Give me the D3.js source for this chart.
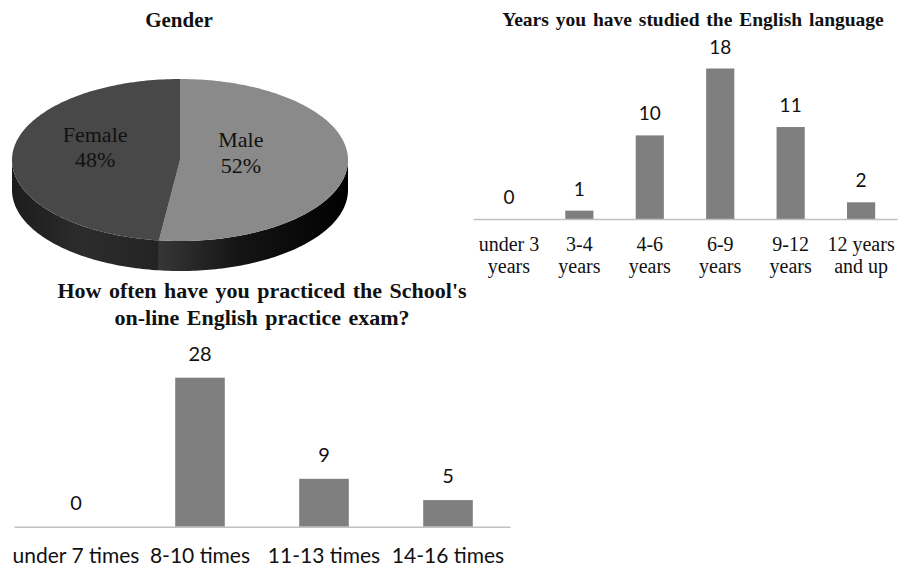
<!DOCTYPE html>
<html>
<head>
<meta charset="utf-8">
<title>Survey charts</title>
<script src="https://cdn.jsdelivr.net/npm/d3@7"></script>
<style>
  body { margin: 0; background: #fff; }
  svg { display: block; }
  .serif { font-family: "Liberation Serif", "Times New Roman", serif; fill: #111; }
  .sans { font-family: Lato, "Open Sans", sans-serif; fill: #111; }
</style>
</head>
<body>
<div id="viz"></div>
<script>
// ---- data ----
var genderLabels = ["Male", "Female"];
var genderValues = [52, 48];

var yearCats = [["under 3", "years"], ["3-4", "years"], ["4-6", "years"], ["6-9", "years"], ["9-12", "years"], ["12 years", "and up"]];
var yearValues = [0, 1, 10, 18, 11, 2];

var practiceCats = ["under 7 times", "8-10 times", "11-13 times", "14-16 times"];
var practiceValues = [0, 28, 9, 5];

var svg = d3.select("#viz").append("svg")
    .attr("width", 898)
    .attr("height", 568);

svg.append("rect").attr("width", 898).attr("height", 568).attr("fill", "#fff");

var defs = svg.append("defs");

// ---------- 3D pie: Gender ----------
var cx = 180, cy = 160, rx = 168, ry = 81, depth = 30;

svg.append("text").attr("class", "serif")
    .attr("x", 179).attr("y", 27)
    .attr("text-anchor", "middle")
    .style("font-size", "21px").style("font-weight", "bold")
    .text("Gender");

var pie = d3.pie().sort(null);
var slices = pie(genderValues);
var topColors = ["#8a8a8a", "#484848"];

// side gradients
var g1 = defs.append("linearGradient").attr("id", "sideMale")
    .attr("gradientUnits", "userSpaceOnUse")
    .attr("x1", 150).attr("x2", 350).attr("y1", 0).attr("y2", 0);
g1.append("stop").attr("offset", "0").attr("stop-color", "#3a3a3a");
g1.append("stop").attr("offset", "0.45").attr("stop-color", "#141414");
g1.append("stop").attr("offset", "1").attr("stop-color", "#000");
var g2 = defs.append("linearGradient").attr("id", "sideFemale")
    .attr("gradientUnits", "userSpaceOnUse")
    .attr("x1", 12).attr("x2", 155).attr("y1", 0).attr("y2", 0);
g2.append("stop").attr("offset", "0").attr("stop-color", "#1c1c1c");
g2.append("stop").attr("offset", "0.5").attr("stop-color", "#2c2c2c");
g2.append("stop").attr("offset", "1").attr("stop-color", "#242424");
var sideFills = ["url(#sideMale)", "url(#sideFemale)"];

function pt(a, dy) {
    return [cx + rx * Math.sin(a), cy - ry * Math.cos(a) + dy];
}
function arcPoints(a0, a1, dy) {
    var pts = [], n = Math.max(2, Math.ceil(Math.abs(a1 - a0) / 0.02));
    for (var i = 0; i <= n; i++) pts.push(pt(a0 + (a1 - a0) * i / n, dy));
    return pts;
}

// sides (only the front half, angles PI/2 .. 3PI/2)
var line = d3.line();
slices.forEach(function(s, i) {
    var a0 = Math.max(s.startAngle, Math.PI / 2);
    var a1 = Math.min(s.endAngle, 3 * Math.PI / 2);
    if (a1 <= a0) return;
    var pts = arcPoints(a0, a1, 0).concat(arcPoints(a1, a0, depth));
    svg.append("path")
        .attr("d", line(pts) + "Z")
        .attr("fill", sideFills[i]);
});

// tops
slices.forEach(function(s, i) {
    var pts = [[cx, cy]].concat(arcPoints(s.startAngle, s.endAngle, 0));
    svg.append("path")
        .attr("d", line(pts) + "Z")
        .attr("fill", topColors[i]);
});

// labels
slices.forEach(function(s, i) {
    var mid = (s.startAngle + s.endAngle) / 2;
    var lx = cx - 12 + 73 * Math.sin(mid);
    var ly = cy - 15.5 - 40 * Math.cos(mid);
    var t = svg.append("text").attr("class", "serif")
        .attr("text-anchor", "middle")
        .style("font-size", "22px");
    t.append("tspan").attr("x", lx).attr("y", ly).text(genderLabels[i]);
    t.append("tspan").attr("x", lx).attr("y", ly + 25.5)
        .text(Math.round(100 * s.value / d3.sum(genderValues)) + "%");
});

// ---------- bar chart: years ----------
var x2 = d3.scaleBand().domain(yearCats.map(function(d) { return d.join(" "); }))
    .range([473, 897]).paddingInner(0.6).paddingOuter(0.31);
var y2 = d3.scaleLinear().domain([0, 18]).range([219, 68.5]);

svg.append("text").attr("class", "serif")
    .attr("x", 693).attr("y", 26)
    .attr("text-anchor", "middle")
    .style("font-size", "19.5px").style("font-weight", "bold")
    .style("word-spacing", "2px")
    .text("Years you have studied the English language");

var bars2 = svg.append("g");
bars2.selectAll("rect").data(yearValues).enter().append("rect")
    .attr("x", function(d, i) { return x2(yearCats[i].join(" ")); })
    .attr("y", function(d) { return y2(d); })
    .attr("width", x2.bandwidth())
    .attr("height", function(d) { return y2(0) - y2(d); })
    .attr("fill", "#7f7f7f");
bars2.selectAll("text").data(yearValues).enter().append("text")
    .attr("class", "sans")
    .attr("x", function(d, i) { return x2(yearCats[i].join(" ")) + x2.bandwidth() / 2; })
    .attr("y", function(d) { return y2(d) - 15; })
    .attr("text-anchor", "middle")
    .style("font-size", "19px")
    .text(function(d) { return d; });

var axis2 = svg.append("g").attr("transform", "translate(0," + y2(0) + ")")
    .call(d3.axisBottom(x2).tickSize(0).tickFormat(""));
axis2.select(".domain").attr("stroke", "#c0c0c0").attr("stroke-width", 1.5);

yearCats.forEach(function(c) {
    var t = svg.append("text").attr("class", "serif")
        .attr("text-anchor", "middle")
        .style("font-size", "20px");
    var xc = x2(c.join(" ")) + x2.bandwidth() / 2;
    t.append("tspan").attr("x", xc).attr("y", 251).text(c[0]);
    t.append("tspan").attr("x", xc).attr("y", 273).text(c[1]);
});

// ---------- bar chart: practice ----------
var x3 = d3.scaleBand().domain(practiceCats)
    .range([14, 510]).paddingInner(0.6).paddingOuter(0.3);
var y3 = d3.scaleLinear().domain([0, 28]).range([526.7, 377.7]);

var title3 = svg.append("text").attr("class", "serif")
    .attr("text-anchor", "middle")
    .style("font-size", "22px").style("font-weight", "bold")
    .style("word-spacing", "2px");
title3.append("tspan").attr("x", 262).attr("y", 298).text("How often have you practiced the School's");
title3.append("tspan").attr("x", 262).attr("y", 325).text("on-line English practice exam?");

var bars3 = svg.append("g");
bars3.selectAll("rect").data(practiceValues).enter().append("rect")
    .attr("x", function(d, i) { return x3(practiceCats[i]); })
    .attr("y", function(d) { return y3(d); })
    .attr("width", x3.bandwidth())
    .attr("height", function(d) { return y3(0) - y3(d); })
    .attr("fill", "#7f7f7f");
bars3.selectAll("text").data(practiceValues).enter().append("text")
    .attr("class", "sans")
    .attr("x", function(d, i) { return x3(practiceCats[i]) + x3.bandwidth() / 2; })
    .attr("y", function(d) { return y3(d) - 17; })
    .attr("text-anchor", "middle")
    .style("font-size", "20px")
    .text(function(d) { return d; });

var axis3 = svg.append("g").attr("transform", "translate(0," + y3(0) + ")")
    .call(d3.axisBottom(x3).tickSize(0).tickFormat(""));
axis3.select(".domain").attr("stroke", "#c0c0c0").attr("stroke-width", 1.5);

svg.append("g").selectAll("text").data(practiceCats).enter().append("text")
    .attr("class", "sans")
    .attr("x", function(d) { return x3(d) + x3.bandwidth() / 2; })
    .attr("y", 563)
    .attr("text-anchor", "middle")
    .style("font-size", "21px")
    .text(function(d) { return d; });
</script>
</body>
</html>
